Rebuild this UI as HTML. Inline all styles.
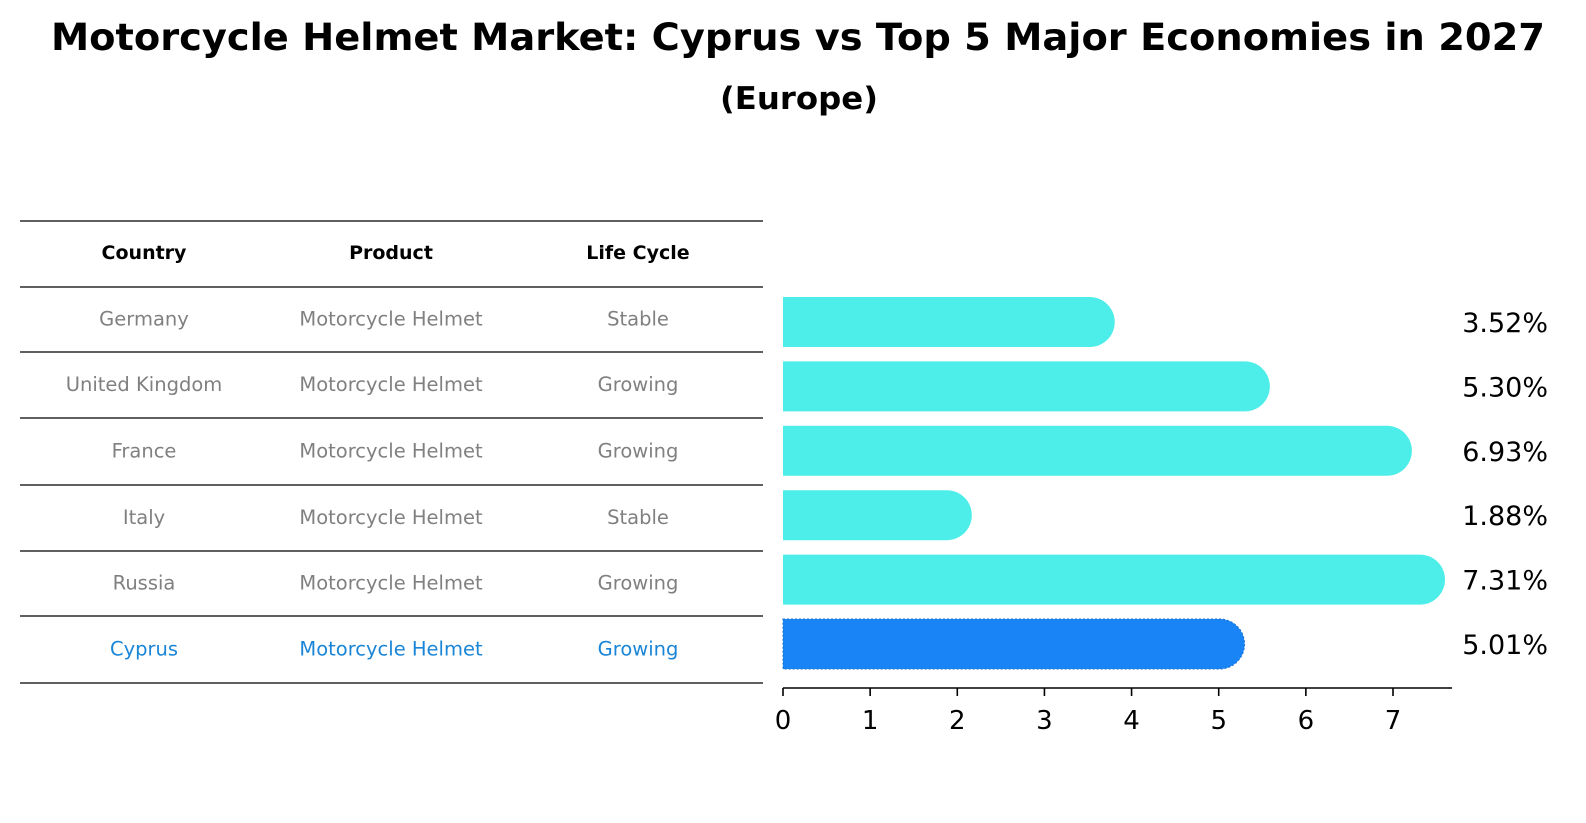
<!DOCTYPE html>
<html><head><meta charset="utf-8"><style>
html,body{margin:0;padding:0;background:#fff;overflow:hidden;width:1586px;height:823px;}
svg{display:block;}
</style></head><body>
<svg width="1586" height="823" xmlns="http://www.w3.org/2000/svg" font-family="DejaVu Sans, Liberation Sans, sans-serif">
<text x="798" y="50" text-anchor="middle" font-size="37" font-weight="bold" textLength="1494" lengthAdjust="spacingAndGlyphs">Motorcycle Helmet Market: Cyprus vs Top 5 Major Economies in 2027</text>
<text x="799" y="109" text-anchor="middle" font-size="31" font-weight="bold" textLength="158" lengthAdjust="spacingAndGlyphs">(Europe)</text>
<g id="table"></g>
<g id="bars"></g>
</svg>
<script>
const countries=["Germany","United Kingdom","France","Italy","Russia","Cyprus"];
const products=["Motorcycle Helmet","Motorcycle Helmet","Motorcycle Helmet","Motorcycle Helmet","Motorcycle Helmet","Motorcycle Helmet"];
const lifecycle=["Stable","Growing","Growing","Stable","Growing","Growing"];
const values=[3.52,5.30,6.93,1.88,7.31,5.01];
const ticks=[0,1,2,3,4,5,6,7];
const NS="http://www.w3.org/2000/svg";
function mk(tag,attrs,parent,text){const e=document.createElementNS(NS,tag);for(const k in attrs)e.setAttribute(k,attrs[k]);if(text!==undefined)e.textContent=text;parent.appendChild(e);return e;}
const tbl=document.getElementById('table');
const lines=[221,287,352,418,485,551,616,683];
lines.forEach(y=>{const l=mk('line',{x1:20,x2:763,y1:y,y2:y,stroke:'#000','stroke-width':1.2},tbl);

});
const cols=[144,391,638];
["Country","Product","Life Cycle"].forEach((h,i)=>{const t=mk('text',{x:cols[i],y:259,'text-anchor':'middle','font-size':19,'font-weight':'bold'},tbl,h);

});
countries.forEach((c,r)=>{const y=(lines[r+1]+lines[r+2])/2+6;const col=r===5?'#1a85d6':'#808080';
[c,products[r],lifecycle[r]].forEach((v,i)=>{const t=mk('text',{x:cols[i],y:y,'text-anchor':'middle','font-size':19.5,fill:col},tbl,v);

});});
const g=document.getElementById('bars');
const x0=783,ppu=(1393-783)/7;
const X=v=>x0+v*ppu;
const rowY=i=>322+i*64.4;
const bh=50;
values.forEach((v,i)=>{const cy=rowY(i);const col=i===5?'#1884f5':'#4deeea';
const p=mk('path',{d:`M${x0},${cy-bh/2} H${X(v)} A${bh/2},${bh/2} 0 0 1 ${X(v)},${cy+bh/2} H${x0} Z`,fill:col},g);
if(i===5){p.setAttribute('stroke','#1a6fd0');p.setAttribute('stroke-dasharray','2,2');}


const t=mk('text',{x:1548,y:cy+10,'text-anchor':'end','font-size':27},g,v.toFixed(2)+'%');

});
const ax=mk('line',{x1:x0,x2:1452,y1:688,y2:688,stroke:'#000','stroke-width':1.6},g);


ticks.forEach(tk=>{const l=mk('line',{x1:X(tk),x2:X(tk),y1:688,y2:696,stroke:'#000','stroke-width':1.6},g);


const t=mk('text',{x:X(tk),y:729,'text-anchor':'middle','font-size':26},g,String(tk));

});
</script>
</body></html>
